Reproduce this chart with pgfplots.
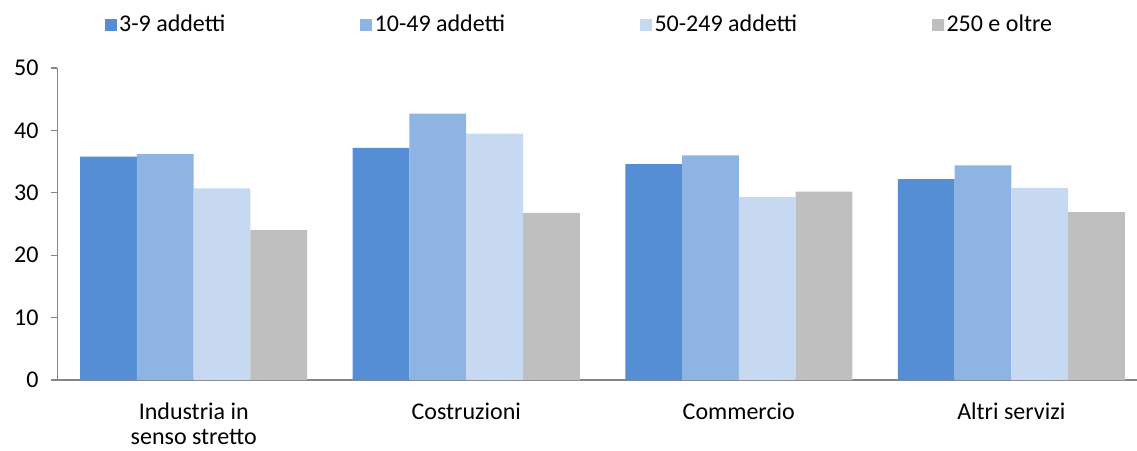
\documentclass[border=0pt]{standalone}
\usepackage{pgfplots}
\pgfplotsset{compat=1.18}
\usepackage{fontspec}
\setmainfont{Carlito}
\definecolor{c1}{HTML}{558ED5}
\definecolor{c2}{HTML}{8EB4E3}
\definecolor{c3}{HTML}{C6D9F1}
\definecolor{c4}{HTML}{BFBFBF}
\definecolor{axgray}{HTML}{868686}
\begin{document}
\fontsize{18pt}{21pt}\selectfont
\begin{tikzpicture}
\begin{axis}[
  width=817.5pt, height=234pt, scale only axis,
  ybar=0pt, bar width=42.56pt,
  xmin=-0.5, xmax=3.5, ymin=0, ymax=50,
  ytick={0,10,...,50},
  xtick={0,1,2,3},
  xticklabels={{Industria in\\senso stretto},Costruzioni,Commercio,Altri servizi},
  xticklabel style={align=center, font=\fontsize{18pt}{18.5pt}\selectfont, yshift=-6pt},
  yticklabel style={font=\fontsize{18pt}{21pt}\selectfont, xshift=-3pt},
  /pgf/number format/assume math mode=true,
  extra x ticks={-0.5,0.5,1.5,2.5,3.5},
  extra x tick labels={},
  extra x tick style={major tick length=5pt, tick style={axgray, line width=0.8pt}},
  major x tick style={draw=none},
  tick align=outside,
  major tick length=5pt,
  ytick style={axgray, line width=0.8pt},
  axis x line*=bottom, axis y line*=left,
  axis line style={axgray, line width=1.2pt},
  x axis line style={-}, y axis line style={-},
  legend style={at={(0.479,1.138)}, anchor=center, draw=none, legend columns=4,
    font=\fontsize{18pt}{21pt}\selectfont, /tikz/every even column/.append style={column sep=99pt}},
  legend image code/.code={\fill[#1] (0pt,-4.5pt) rectangle (9pt,4.5pt);},
  clip=false,
]
\addplot[fill=c1, draw=none] coordinates {(0,35.8) (1,37.2) (2,34.6) (3,32.2)};
\addplot[fill=c2, draw=none] coordinates {(0,36.2) (1,42.7) (2,36.0) (3,34.4)};
\addplot[fill=c3, draw=none] coordinates {(0,30.7) (1,39.5) (2,29.3) (3,30.8)};
\addplot[fill=c4, draw=none] coordinates {(0,24.0) (1,26.8) (2,30.2) (3,26.9)};
\legend{3-9 addetti,10-49 addetti,50-249 addetti,250 e oltre}
\coordinate (sw) at (rel axis cs:0,0);
\coordinate (ne) at (rel axis cs:1,1);
\end{axis}
\pgfresetboundingbox
\path[use as bounding box] ([xshift=-43.1pt,yshift=-52.5pt]sw) rectangle ([xshift=-7.9pt,yshift=51pt]ne);
\end{tikzpicture}
\end{document}
